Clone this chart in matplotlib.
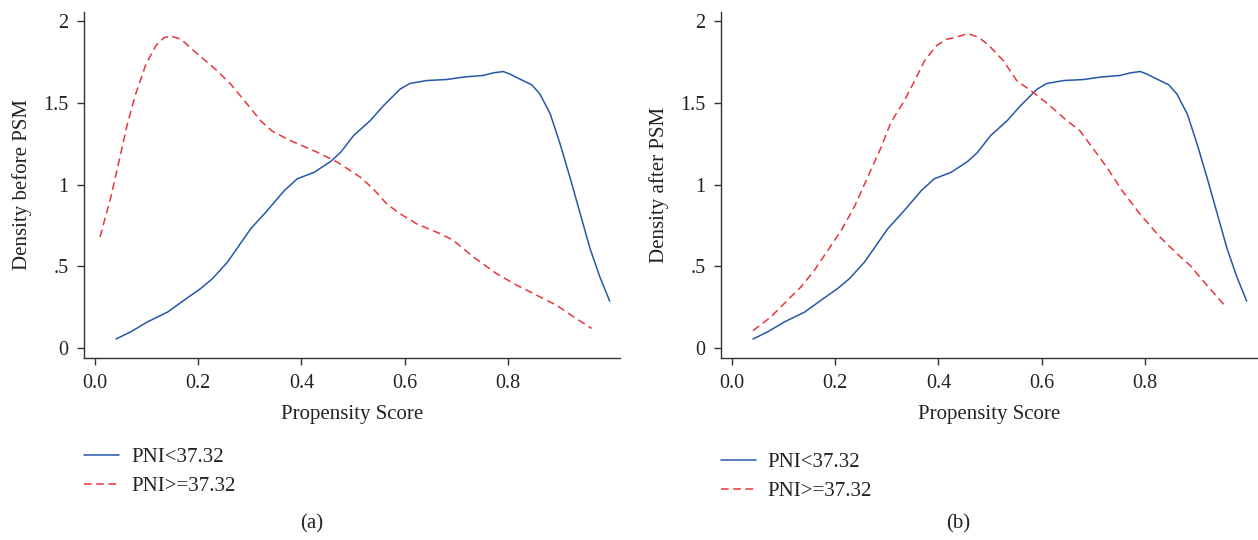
import matplotlib
matplotlib.use("Agg")
import matplotlib.pyplot as plt

# ---- data ----
blue_x = [0.041, 0.070, 0.102, 0.141, 0.173, 0.205, 0.228, 0.257, 0.302, 0.334,
          0.367, 0.392, 0.425, 0.457, 0.476, 0.501, 0.533, 0.559, 0.591, 0.610,
          0.643, 0.681, 0.714, 0.752, 0.772, 0.791, 0.804, 0.823, 0.846, 0.862,
          0.882, 0.901, 0.920, 0.940, 0.959, 0.978, 0.997]
blue_y = [0.055, 0.100, 0.160, 0.220, 0.293, 0.364, 0.425, 0.526, 0.730, 0.841,
          0.963, 1.035, 1.075, 1.142, 1.197, 1.299, 1.390, 1.482, 1.583, 1.618,
          1.636, 1.642, 1.657, 1.667, 1.683, 1.691, 1.675, 1.645, 1.610, 1.553,
          1.431, 1.248, 1.045, 0.821, 0.608, 0.435, 0.287]

red_before_x = [0.010, 0.031, 0.050, 0.063, 0.079, 0.099, 0.118, 0.134, 0.147, 0.167,
                0.192, 0.237, 0.263, 0.295, 0.321, 0.344, 0.379, 0.431, 0.470, 0.514,
                0.539, 0.565, 0.591, 0.623, 0.669, 0.694, 0.733, 0.778, 0.817, 0.862,
                0.894, 0.927, 0.962]
red_before_y = [0.679, 0.923, 1.187, 1.370, 1.553, 1.736, 1.848, 1.898, 1.909, 1.888,
                1.817, 1.695, 1.614, 1.492, 1.390, 1.325, 1.268, 1.197, 1.136, 1.045,
                0.974, 0.882, 0.821, 0.760, 0.699, 0.659, 0.557, 0.455, 0.384, 0.313,
                0.262, 0.191, 0.120]

red_after_x = [0.041, 0.076, 0.108, 0.134, 0.160, 0.186, 0.212, 0.237, 0.263, 0.289,
               0.308, 0.334, 0.354, 0.373, 0.396, 0.415, 0.431, 0.457, 0.476, 0.487,
               0.502, 0.526, 0.552, 0.584, 0.616, 0.649, 0.674, 0.700, 0.726, 0.758,
               0.790, 0.829, 0.862, 0.887, 0.920, 0.958]
red_after_y = [0.106, 0.191, 0.293, 0.374, 0.476, 0.598, 0.720, 0.862, 1.045, 1.227,
               1.380, 1.512, 1.634, 1.756, 1.848, 1.888, 1.898, 1.923, 1.902, 1.878,
               1.837, 1.756, 1.634, 1.563, 1.482, 1.390, 1.329, 1.218, 1.106, 0.953,
               0.821, 0.679, 0.577, 0.506, 0.384, 0.248]

xticks = [0.0, 0.2, 0.4, 0.6, 0.8]
xtick_labels = ["0.0", "0.2", "0.4", "0.6", "0.8"]
yticks = [0, 0.5, 1, 1.5, 2]
ytick_labels = ["0", ".5", "1", "1.5", "2"]
legend_labels = ["PNI<37.32", "PNI>=37.32"]
ylabels = ["Density before PSM", "Density after PSM"]
panel_labels = ["(a)", "(b)"]

BLUE = "#2458a8"
RED = "#e9343b"
TXT = "#222222"
AX = "#333333"
plt.rcParams["font.family"] = "Liberation Serif"

fig = plt.figure(figsize=(12.58, 5.40), dpi=100)
W, H = 1258.0, 540.0
ax_a = fig.add_axes([84 / W, 1 - 358 / H, 536 / W, 346 / H])
ax_b = fig.add_axes([721 / W, 1 - 358 / H, 536 / W, 346 / H])

panels = [
    (ax_a, red_before_x, red_before_y, ylabels[0], panel_labels[0], 312, (75.6, 439.3)),
    (ax_b, red_after_x, red_after_y, ylabels[1], panel_labels[1], 958, (712.3, 444.5)),
]

for ax, rx, ry, ylab, plab, px, (lx, ly) in panels:
    l1, = ax.plot(blue_x, blue_y, color=BLUE, lw=1.1, solid_joinstyle="round",
                  solid_capstyle="round")
    l2, = ax.plot(rx, ry, color=RED, lw=1.1, dashes=(5.0, 3.0))
    ax.set_xlim(-0.021, 1.017)
    ax.set_ylim(-0.061, 2.055)
    ax.set_xticks(xticks)
    ax.set_xticklabels(xtick_labels)
    ax.set_yticks(yticks)
    ax.set_yticklabels(ytick_labels)
    ax.spines["top"].set_visible(False)
    ax.spines["right"].set_visible(False)
    for s in ("left", "bottom"):
        ax.spines[s].set_color(AX)
        ax.spines[s].set_linewidth(1.0)
    ax.tick_params(direction="out", length=5, width=1.0, color=AX,
                   labelsize=14.5, labelcolor=TXT)
    ax.tick_params(axis="x", pad=6.5)
    ax.tick_params(axis="y", pad=6)
    ax.set_xlabel("Propensity Score", fontsize=15, color=TXT, labelpad=9)
    ax.set_ylabel(ylab, fontsize=15, color=TXT, labelpad=8)
    fig.legend([l1, l2], legend_labels, loc="upper left",
               bbox_to_anchor=(lx / W, 1 - ly / H),
               frameon=False, fontsize=15, handlelength=1.68, handletextpad=0.58,
               labelspacing=0.45, borderaxespad=0, labelcolor=TXT)
    fig.text(px / W, 1 - 524 / H, plab, fontsize=15, ha="center", va="center",
             color=TXT)

fig.savefig("out.png", dpi=100)
